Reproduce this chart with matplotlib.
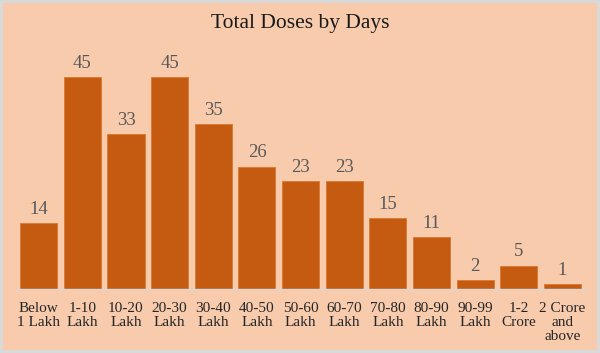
import matplotlib
matplotlib.use("Agg")
import matplotlib.pyplot as plt

categories = ["Below\n1 Lakh", "1-10\nLakh", "10-20\nLakh", "20-30\nLakh", "30-40\nLakh",
              "40-50\nLakh", "50-60\nLakh", "60-70\nLakh", "70-80\nLakh", "80-90\nLakh",
              "90-99\nLakh", "1-2\nCrore", "2 Crore\nand\nabove"]
values = [14, 45, 33, 45, 35, 26, 23, 23, 15, 11, 2, 5, 1]
title = "Total Doses by Days"

bg = "#F8CBAD"
barc = "#C55A11"
serif = ["Liberation Serif", "DejaVu Serif"]

fig = plt.figure(figsize=(6, 3.53), dpi=100)
fig.patch.set_facecolor(bg)
fig.patch.set_edgecolor("#D9D9D9")
fig.patch.set_linewidth(3)
ax = fig.add_axes([0.028, 0.181, 0.946, 0.667])
ax.set_facecolor(bg)
x = list(range(len(values)))
bars = ax.bar(x, values, width=0.85, color=barc, edgecolor="#D9782F", linewidth=0.6)
for xi, v in zip(x, values):
    ax.text(xi, v + 1.1, str(v), ha="center", va="bottom", fontsize=13.5,
            color="#595959", family=serif)
ax.set_xlim(-0.5, len(values) - 0.5)
ax.set_ylim(0, 50)
ax.set_yticks([])
ax.set_xticks(x)
ax.set_xticklabels(categories, fontsize=11, color="#262626", family=serif, linespacing=1.12)
ax.tick_params(axis="x", length=0, pad=9)
for s in ["top", "right", "left"]:
    ax.spines[s].set_visible(False)
ax.spines["bottom"].set_color("#D9D9D9")
ax.spines["bottom"].set_linewidth(1)
fig.text(0.5, 0.933, title, ha="center", va="center", fontsize=15.5, color="#1a1a1a", family=serif)
fig.savefig("out.png", dpi=100, facecolor=bg, edgecolor="#D9D9D9")
